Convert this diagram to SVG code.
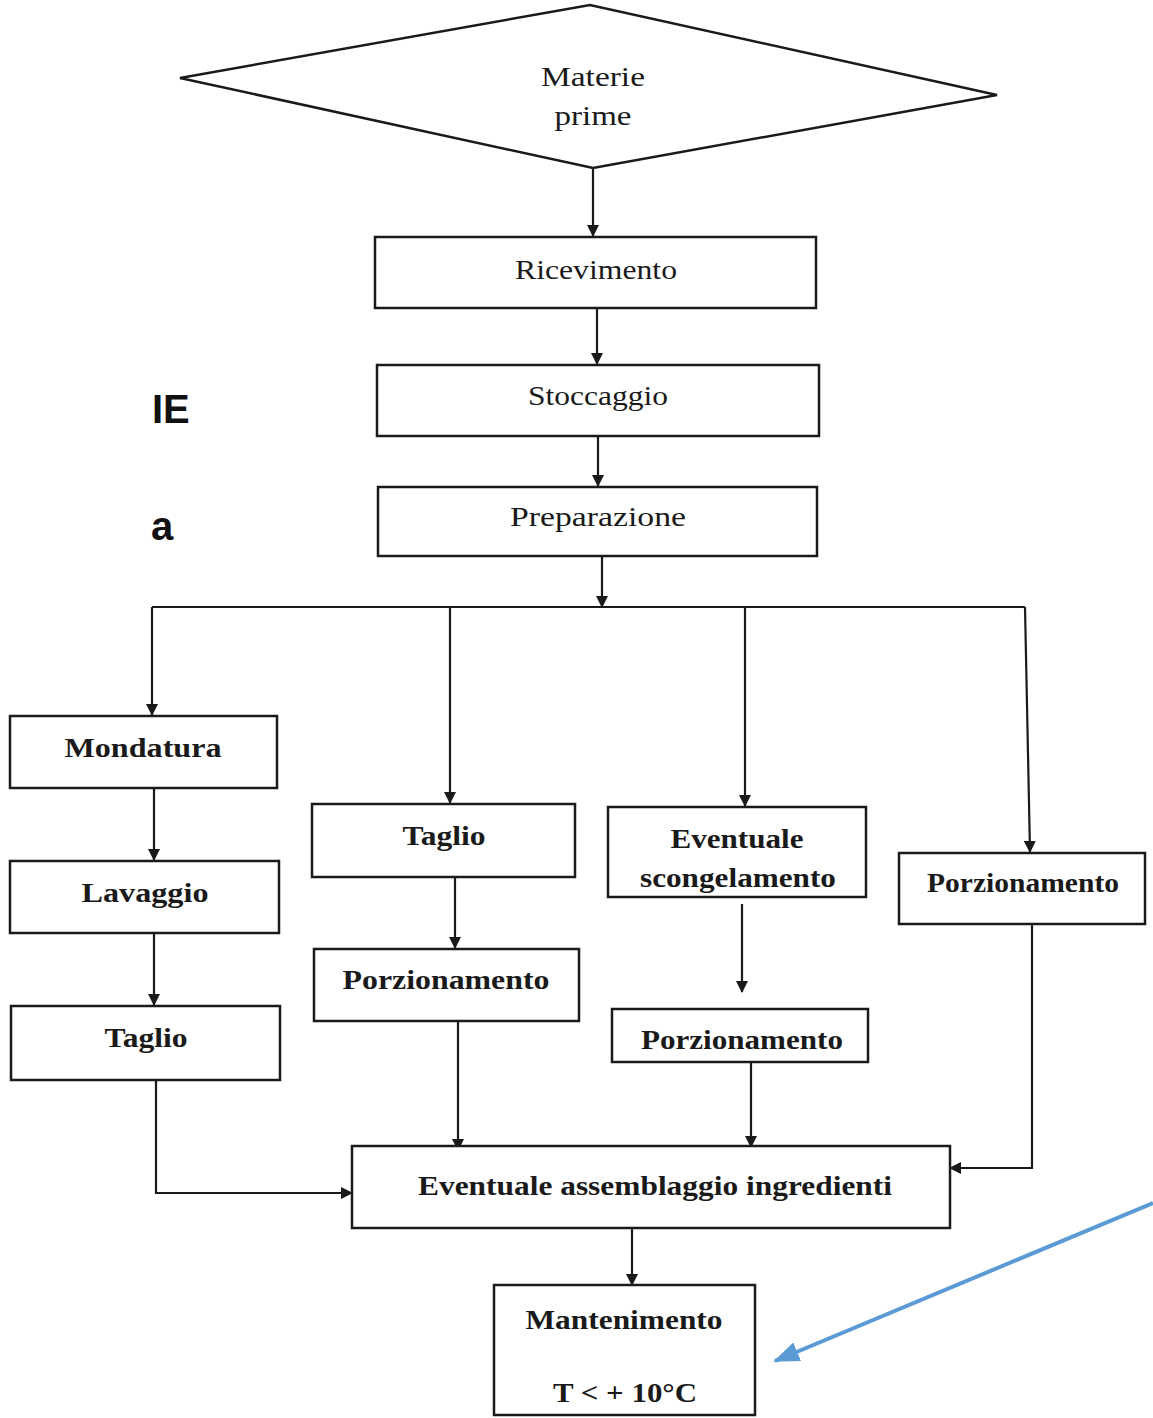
<svg xmlns="http://www.w3.org/2000/svg" width="1153" height="1418" viewBox="0 0 1153 1418">
<style>
.box{fill:#fff;stroke:#1a1a1a;stroke-width:2.5}
.t{font-family:"Liberation Serif","Times New Roman",serif;font-size:28px;fill:#1a1a1a;text-anchor:middle}
.b{font-weight:bold}
.c{fill:none;stroke:#1a1a1a;stroke-width:2.2}
.side{font-family:"Liberation Sans",Arial,sans-serif;font-size:40px;font-weight:bold;fill:#111}
</style>
<defs>
<marker id="ah" markerWidth="12" markerHeight="12" refX="11" refY="6" orient="auto" markerUnits="userSpaceOnUse" viewBox="0 0 12 12">
<path d="M0,0 L12,6 L0,12 z" fill="#1a1a1a"/>
</marker>
<marker id="bh" markerWidth="26" markerHeight="20" refX="24" refY="10" orient="auto" markerUnits="userSpaceOnUse" viewBox="0 0 26 20">
<path d="M0,0 L26,10 L0,20 z" fill="#5b9bd5"/>
</marker>
</defs>
<rect width="1153" height="1418" fill="#fff"/>
<text class="side" x="152" y="423">IE</text>
<text class="side" x="151" y="540">a</text>

<g id="connectors">
<path class="c" d="M593,168 V236" marker-end="url(#ah)"/>
<path class="c" d="M597,308 V364" marker-end="url(#ah)"/>
<path class="c" d="M598,436 V486" marker-end="url(#ah)"/>
<path class="c" d="M602,556 V607" marker-end="url(#ah)"/>
<path class="c" d="M152,607 H1025"/>
<path class="c" d="M152,607 V715" marker-end="url(#ah)"/>
<path class="c" d="M450,607 V803" marker-end="url(#ah)"/>
<path class="c" d="M745,607 V806" marker-end="url(#ah)"/>
<path class="c" d="M1025,607 L1030,852" marker-end="url(#ah)"/>
<path class="c" d="M154,788 V860" marker-end="url(#ah)"/>
<path class="c" d="M154,933 V1005" marker-end="url(#ah)"/>
<path class="c" d="M156,1080 V1193 H352" marker-end="url(#ah)"/>
<path class="c" d="M455,877 V948" marker-end="url(#ah)"/>
<path class="c" d="M458,1021 V1150" marker-end="url(#ah)"/>
<path class="c" d="M742,904 V992" marker-end="url(#ah)"/>
<path class="c" d="M751,1062 V1147" marker-end="url(#ah)"/>
<path class="c" d="M1032,924 V1168 H950" marker-end="url(#ah)"/>
<path class="c" d="M632,1228 V1285" marker-end="url(#ah)"/>
<path d="M1153,1203 L775,1361" stroke="#5b9bd5" stroke-width="4" fill="none" marker-end="url(#bh)"/>
</g>

<g id="n-materie">
<polygon class="box" points="180,78 590,5 997,95 593,168"/>
<text class="t" x="593" y="86" textLength="104" lengthAdjust="spacingAndGlyphs">Materie</text>
<text class="t" x="593" y="125" textLength="77" lengthAdjust="spacingAndGlyphs">prime</text>
</g>
<g id="n-ricevimento">
<rect class="box" x="375" y="237" width="441" height="71"/>
<text class="t" x="596" y="279" textLength="162" lengthAdjust="spacingAndGlyphs">Ricevimento</text>
</g>
<g id="n-stoccaggio">
<rect class="box" x="377" y="365" width="442" height="71"/>
<text class="t" x="598" y="405" textLength="140" lengthAdjust="spacingAndGlyphs">Stoccaggio</text>
</g>
<g id="n-preparazione">
<rect class="box" x="378" y="487" width="439" height="69"/>
<text class="t" x="598" y="526" textLength="176" lengthAdjust="spacingAndGlyphs">Preparazione</text>
</g>
<g id="n-mondatura">
<rect class="box" x="10" y="716" width="267" height="72"/>
<text class="t b" x="143" y="757" textLength="157" lengthAdjust="spacingAndGlyphs">Mondatura</text>
</g>
<g id="n-lavaggio">
<rect class="box" x="10" y="861" width="269" height="72"/>
<text class="t b" x="145" y="902" textLength="127" lengthAdjust="spacingAndGlyphs">Lavaggio</text>
</g>
<g id="n-taglio1">
<rect class="box" x="11" y="1006" width="269" height="74"/>
<text class="t b" x="146" y="1047" textLength="83" lengthAdjust="spacingAndGlyphs">Taglio</text>
</g>
<g id="n-taglio2">
<rect class="box" x="312" y="804" width="263" height="73"/>
<text class="t b" x="444" y="845" textLength="83" lengthAdjust="spacingAndGlyphs">Taglio</text>
</g>
<g id="n-porz1">
<rect class="box" x="314" y="949" width="265" height="72"/>
<text class="t b" x="446" y="989" textLength="207" lengthAdjust="spacingAndGlyphs">Porzionamento</text>
</g>
<g id="n-scongelamento">
<rect class="box" x="608" y="807" width="258" height="90"/>
<text class="t b" x="737" y="848" textLength="133" lengthAdjust="spacingAndGlyphs">Eventuale</text>
<text class="t b" x="738" y="887" textLength="196" lengthAdjust="spacingAndGlyphs">scongelamento</text>
</g>
<g id="n-porz2">
<rect class="box" x="612" y="1009" width="256" height="53"/>
<text class="t b" x="742" y="1049" textLength="202" lengthAdjust="spacingAndGlyphs">Porzionamento</text>
</g>
<g id="n-porz3">
<rect class="box" x="899" y="853" width="246" height="71"/>
<text class="t b" x="1023" y="892" textLength="192" lengthAdjust="spacingAndGlyphs">Porzionamento</text>
</g>
<g id="n-assemblaggio">
<rect class="box" x="352" y="1146" width="598" height="82"/>
<text class="t b" x="655" y="1195" textLength="474" lengthAdjust="spacingAndGlyphs">Eventuale assemblaggio ingredienti</text>
</g>
<g id="n-mantenimento">
<rect class="box" x="494" y="1285" width="261" height="130"/>
<text class="t b" x="624" y="1329" textLength="197" lengthAdjust="spacingAndGlyphs">Mantenimento</text>
<text class="t b" x="625" y="1402" textLength="144" lengthAdjust="spacingAndGlyphs">T &lt; + 10°C</text>
</g>
</svg>
